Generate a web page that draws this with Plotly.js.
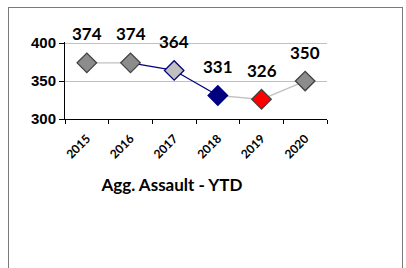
<!DOCTYPE html>
<html>
<head>
<meta charset="utf-8">
<script src="https://cdn.plot.ly/plotly-3.0.1.min.js"></script>
<style>
html,body{margin:0;padding:0;background:#fff;}
#wrap{position:relative;width:406px;height:268px;overflow:hidden;}
#chart{position:absolute;left:0;top:0;width:406px;height:268px;}
#frame{position:absolute;left:8px;top:7px;width:393px;height:280px;border:1px solid #7a7a7a;pointer-events:none;}
#err{position:absolute;left:10px;top:230px;font:9px sans-serif;color:#c00;}
</style>
</head>
<body>
<div id="wrap"><div id="chart"></div><div id="frame"></div><div id="err"></div></div>
<script>
const years = ['2015','2016','2017','2018','2019','2020'];
const values = [374, 374, 364, 331, 326, 350];
const labels = ['374','374','364','331','326','350'];
const yTicks = [300, 350, 400];
const markerFill = ['#8c8c8c','#8c8c8c','#c0c0c0','#000080','#ff0000','#8c8c8c'];
const markerEdge = ['#404040','#404040','#000080','#000080','#404040','#404040'];
const segmentColors = ['#c0c0c0','#000080','#000080','#c0c0c0','#c0c0c0'];
const chartTitle = 'Agg. Assault - YTD';

try {
const traces = [];
for (let i = 0; i < years.length - 1; i++) {
  traces.push({
    type: 'scatter', mode: 'lines',
    x: [years[i], years[i+1]], y: [values[i], values[i+1]],
    line: {color: segmentColors[i], width: 1.3},
    hoverinfo: 'skip', showlegend: false
  });
}
traces.push({
  type: 'scatter', mode: 'markers',
  x: years, y: values,
  marker: {symbol: 'diamond', size: 15, color: markerFill, line: {color: markerEdge, width: 1.3}},
  showlegend: false
});

const annotations = years.map((yr, i) => ({
  x: i, y: values[i], xref: 'x', yref: 'y',
  text: '<b>' + labels[i] + '</b>', showarrow: false, yshift: 29, yanchor: 'middle', xanchor: 'center',
  font: {family: 'Lato', size: 17, color: '#000'}
}));

const layout = {
  width: 406, height: 268,
  margin: {l: 65, r: 79, t: 42, b: 149},
  paper_bgcolor: '#fff', plot_bgcolor: '#fff',
  showlegend: false,
  title: {
    text: '<b>' + chartTitle + '</b>',
    xref: 'container', yref: 'container',
    x: 172/406, y: 1 - 185/268, xanchor: 'center', yanchor: 'middle',
    font: {family: 'Lato', size: 17, color: '#000'}
  },
  xaxis: {
    type: 'category', range: [-0.5, 5.5],
    tickvals: years, ticktext: years.map(s => '<b>' + s + '</b>'),
    showline: true, linecolor: '#000', linewidth: 1,
    ticks: 'outside', ticklen: 4, tickcolor: '#000', tickson: 'boundaries',
    tickangle: -45, showgrid: false, zeroline: false, ticklabelstandoff: 7,
    tickfont: {family: 'Lato', size: 12, color: '#000'}
  },
  yaxis: {
    range: [300, 401.5], tickvals: yTicks, ticktext: yTicks.map(v => '<b>' + v + '</b>'),
    showline: true, linecolor: '#000', linewidth: 1,
    ticks: 'outside', ticklen: 5, tickcolor: '#000',
    showgrid: true, gridcolor: '#c0c0c0', gridwidth: 1, zeroline: false,
    tickfont: {family: 'Liberation Sans', size: 15, color: '#000'}
  },
  annotations: annotations
};

Plotly.newPlot('chart', traces, layout, {staticPlot: true, displayModeBar: false}).catch(e => {document.getElementById('err').textContent = String(e);});
} catch (e) { document.getElementById('err').textContent = String(e); }
</script>
</body>
</html>
